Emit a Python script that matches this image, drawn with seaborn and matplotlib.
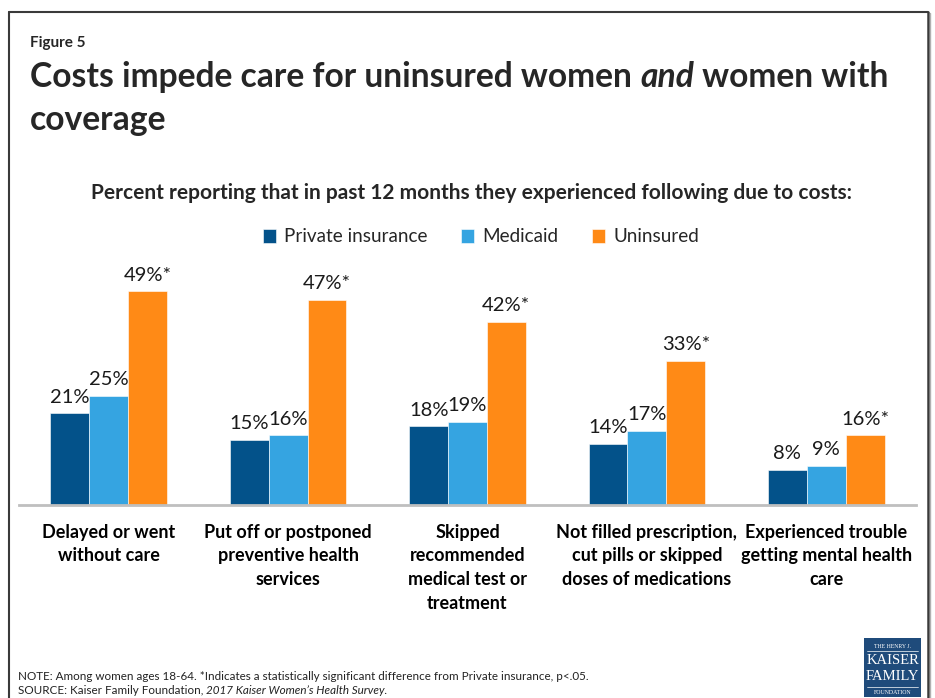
import matplotlib
matplotlib.use("Agg")
import matplotlib.pyplot as plt
from matplotlib.lines import Line2D
from matplotlib.patches import Rectangle
import pandas as pd
import seaborn as sns

# ---- data ----
categories = [
    "Delayed or went\nwithout care",
    "Put off or postponed\npreventive health\nservices",
    "Skipped\nrecommended\nmedical test or\ntreatment",
    "Not filled prescription,\ncut pills or skipped\ndoses of medications",
    "Experienced trouble\ngetting mental health\ncare",
]
series = ["Private insurance", "Medicaid", "Uninsured"]
private_insurance = [21, 15, 18, 14, 8]
medicaid = [25, 16, 19, 17, 9]
uninsured = [49, 47, 42, 33, 16]
significant = ["", "", "*"]  # marker appended to each series' labels

colors = ["#03528A", "#35A4E1", "#FF8A16"]

df = pd.DataFrame({
    "category": categories * 3,
    "group": [s for s in series for _ in categories],
    "value": private_insurance + medicaid + uninsured,
})

sns.set_theme(style="white")
plt.rcParams["font.family"] = ["Lato", "DejaVu Sans"]

W, H = 935, 698
fig = plt.figure(figsize=(W / 100, H / 100), dpi=100)


def fx(px):
    return px / W


def fy(py):
    return 1 - py / H


# plotting area: baseline at y=505 px, spans x 19..916 px
ax_top = 265
ax = fig.add_axes([fx(19), fy(505), fx(916 - 19), (505 - ax_top) / H])
sns.barplot(data=df, x="category", y="value", hue="group", order=categories,
            hue_order=series, palette=colors, width=0.65, saturation=1,
            edgecolor="white", linewidth=0.4, ax=ax, legend=True)
ax.set_ylim(0, 55)
ax.set_xlim(-0.5, len(categories) - 0.5)
ax.set_xlabel("")
ax.set_ylabel("")
ax.set_yticks([])
for side in ["left", "right", "top"]:
    ax.spines[side].set_visible(False)
ax.spines["bottom"].set_color("#BFBFBF")
ax.spines["bottom"].set_linewidth(2)
ax.tick_params(axis="x", length=0, pad=13.5)
ax.set_xticks(range(len(categories)))
ax.set_xticklabels(categories, fontsize=13, fontweight="bold", color="black",
                   linespacing=1.48)

for cont, vals, mark in zip(ax.containers, [private_insurance, medicaid, uninsured], significant):
    ax.bar_label(cont, labels=[f"{v}%{mark}" for v in vals], padding=5.5,
                 fontsize=14.5, color="#1a1a1a")

sns.move_legend(ax, "center", bbox_to_anchor=(fx(481), fy(237)),
                bbox_transform=fig.transFigure, ncol=3, frameon=False,
                title=None, fontsize=13.6, handlelength=0.7, handleheight=0.7,
                handletextpad=0.45, columnspacing=1.75)

# ---- frame ----
fig.add_artist(Line2D([fx(8.5), fx(8.5)], [fy(12), 0], color="#3a3a3a", lw=1.5,
                      transform=fig.transFigure))
fig.add_artist(Line2D([fx(8.5), fx(928)], [fy(12), fy(12)], color="#3a3a3a", lw=1.5,
                      transform=fig.transFigure))
fig.add_artist(Line2D([fx(928), fx(928)], [fy(12), 0], color="#3a3a3a", lw=1.8,
                      transform=fig.transFigure))
fig.add_artist(Line2D([fx(930), fx(930)], [fy(13), 0], color="#b0b0b0", lw=1.0,
                      transform=fig.transFigure))

# ---- texts ----
fig.canvas.draw()
renderer = fig.canvas.get_renderer()


def runs(x_px, y_px, parts, **kw):
    """Draw consecutive text pieces with different styles on one baseline."""
    x = fx(x_px)
    for text, style in parts:
        t = fig.text(x, fy(y_px), text, va="baseline", ha="left", style=style, **kw)
        bb = t.get_window_extent(renderer)
        x += bb.width / W


fig.text(fx(30), fy(47), "Figure 5", fontsize=11, fontweight="bold", va="baseline")
runs(30, 87, [("Costs impede care for uninsured women ", "normal"), ("and", "italic"),
              (" women with", "normal")], fontsize=24.2, fontweight="bold")
fig.text(fx(30), fy(130), "coverage", fontsize=24.2, fontweight="bold", va="baseline")

fig.text(fx(471), fy(199),
         "Percent reporting that in past 12 months they experienced following due to costs:",
         fontsize=15, fontweight="bold", ha="center", va="baseline")

fig.text(fx(18), fy(680),
         "NOTE: Among women ages 18-64. *Indicates a statistically significant difference from Private insurance, p<.05.",
         fontsize=8.4, va="baseline", color="#222222")
runs(18, 694, [("SOURCE: Kaiser Family Foundation, ", "normal"),
               ("2017 Kaiser Women\u2019s Health Survey.", "italic")],
     fontsize=8.4, color="#222222")

# ---- foundation logo ----
logo_color = "#1F4B7B"
fig.add_artist(Rectangle((fx(864), fy(697)), fx(921 - 864), (697 - 638) / H,
                         transform=fig.transFigure, facecolor=logo_color, edgecolor="none"))
lx = fx(892.5)
serif = ["Liberation Serif", "DejaVu Serif"]
fig.text(lx, fy(646), "THE HENRY J.", family=serif, fontsize=4.2, color="white",
         ha="center", va="center")
fig.add_artist(Line2D([fx(867), fx(918)], [fy(650.5), fy(650.5)], color="white", lw=0.5,
                      transform=fig.transFigure))
fig.text(lx, fy(661), "KAISER", family=serif, fontsize=10.5, color="white",
         ha="center", va="center")
fig.text(lx, fy(677), "FAMILY", family=serif, fontsize=10.5, color="white",
         ha="center", va="center")
fig.add_artist(Line2D([fx(867), fx(918)], [fy(686.5), fy(686.5)], color="white", lw=0.5,
                      transform=fig.transFigure))
fig.text(lx, fy(692), "FOUNDATION", family=serif, fontsize=4.2, color="white",
         ha="center", va="center")

fig.savefig("out.png", dpi=100, facecolor="white")
